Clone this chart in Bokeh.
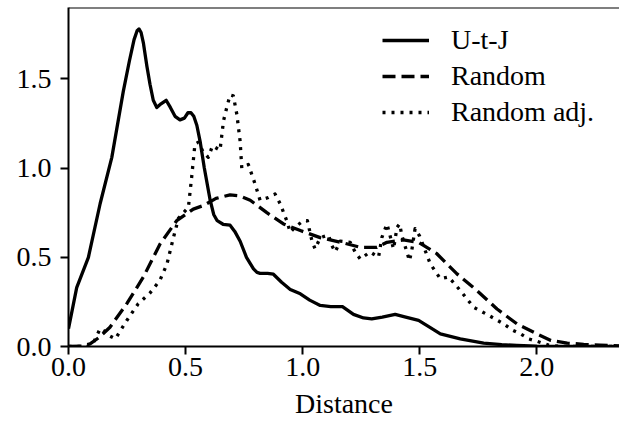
from bokeh.plotting import figure
from bokeh.models import Range1d, Legend, LegendItem, Span, FixedTicker
from bokeh.embed import file_html
from bokeh.resources import INLINE

# ---- data ----
utj_x = [0.0, 0.035, 0.085, 0.135, 0.185, 0.234, 0.26, 0.28, 0.293, 0.301, 0.31, 0.32, 0.335,
         0.348, 0.362, 0.377, 0.395, 0.417, 0.435, 0.455,
         0.476, 0.495, 0.51, 0.523, 0.535, 0.548, 0.562, 0.58, 0.605, 0.62, 0.635, 0.66, 0.69,
         0.71, 0.733, 0.76, 0.79, 0.805,
         0.818, 0.85, 0.875, 0.91, 0.947, 0.99, 1.03, 1.075, 1.12, 1.17, 1.217, 1.26, 1.295,
         1.34, 1.395, 1.44, 1.495, 1.54, 1.588, 1.673, 1.773, 1.85, 1.915, 2.0, 2.1, 2.2, 2.36]
utj_y = [0.10, 0.33, 0.50, 0.80, 1.06, 1.43, 1.60, 1.72, 1.77, 1.78, 1.76, 1.70, 1.57,
         1.47, 1.38, 1.34, 1.36, 1.38, 1.34, 1.29,
         1.27, 1.28, 1.31, 1.31, 1.29, 1.24, 1.15, 1.00, 0.82, 0.74, 0.705, 0.685, 0.68,
         0.645, 0.59, 0.50, 0.435, 0.415,
         0.41, 0.41, 0.405, 0.36, 0.32, 0.295, 0.26, 0.23, 0.224, 0.224, 0.18, 0.16, 0.155,
         0.165, 0.18, 0.165, 0.146, 0.11, 0.071, 0.043, 0.019, 0.01, 0.006, 0.002, 0.001, 0.0, 0.0]

rand_x = [0.0, 0.06, 0.092, 0.13, 0.177, 0.249, 0.32, 0.391, 0.462, 0.533, 0.576, 0.63, 0.69,
          0.73, 0.776, 0.847, 0.918, 0.99, 1.075, 1.16, 1.246, 1.317, 1.36, 1.43, 1.495, 1.573,
          1.659, 1.744, 1.83, 1.915, 2.0, 2.06, 2.13, 2.2, 2.27, 2.36]
rand_y = [0.0, 0.002, 0.015, 0.05, 0.108, 0.24, 0.39, 0.575, 0.705, 0.77, 0.79, 0.83, 0.85,
          0.845, 0.82, 0.75, 0.687, 0.65, 0.61, 0.585, 0.556, 0.556, 0.584, 0.597, 0.584, 0.52,
          0.407, 0.314, 0.21, 0.127, 0.071, 0.034, 0.019, 0.012, 0.008, 0.003]

adj_x = [0.0, 0.08, 0.11, 0.135, 0.149, 0.175, 0.2, 0.249, 0.298, 0.348, 0.39, 0.42, 0.448, 0.47,
         0.512, 0.526, 0.54, 0.555, 0.575, 0.597, 0.615, 0.647, 0.662, 0.676, 0.69, 0.704, 0.719,
         0.733, 0.74, 0.768, 0.797, 0.818, 0.854, 0.882, 0.904, 0.932, 0.947, 0.968, 1.003,
         1.02, 1.04, 1.053, 1.075, 1.11, 1.125, 1.139, 1.16, 1.203, 1.224, 1.246, 1.288, 1.324,
         1.338, 1.36, 1.388, 1.403, 1.414, 1.424, 1.445, 1.456, 1.466, 1.48, 1.499, 1.545,
         1.588, 1.623, 1.673, 1.73, 1.787, 1.858, 1.894, 1.93, 1.965, 2.003, 2.05, 2.1, 2.36]
adj_y = [0.0, 0.0, 0.03, 0.10, 0.09, 0.06, 0.043, 0.146, 0.24, 0.30, 0.37, 0.46, 0.61, 0.72,
         0.78, 0.95, 1.135, 1.145, 1.09, 1.06, 1.125, 1.10, 1.265, 1.34, 1.41, 1.405, 1.30,
         1.15, 1.00, 1.02, 0.91, 0.82, 0.835, 0.855, 0.80, 0.705, 0.64, 0.67, 0.705,
         0.705, 0.59, 0.547, 0.61, 0.625, 0.565, 0.53, 0.59, 0.584, 0.53, 0.49, 0.53, 0.50,
         0.61, 0.687, 0.547, 0.668, 0.687, 0.62, 0.53, 0.48, 0.54, 0.66, 0.62, 0.463,
         0.38, 0.39, 0.314, 0.22, 0.18, 0.127, 0.093, 0.071, 0.043, 0.028, 0.008, 0.0, 0.0]

series_labels = ["U-t-J", "Random", "Random adj."]
x_ticks = [0.0, 0.5, 1.0, 1.5, 2.0]
y_ticks = [0.0, 0.5, 1.0, 1.5]
x_label = "Distance"
X_MAX = 2.353
Y_MAX = 1.9

FONT = "Liberation Serif"
FS = "28px"

p = figure(frame_width=551, frame_height=339, output_backend="svg", toolbar_location=None,
           x_range=Range1d(0, X_MAX), y_range=Range1d(0, Y_MAX),
           min_border_left=68, min_border_right=0, min_border_top=7, min_border_bottom=77)
p.outline_line_color = None
p.grid.visible = False
p.background_fill_color = "white"
p.border_fill_color = "white"

LW = 3.3
r1 = p.line(utj_x, utj_y, line_color="black", line_width=LW, line_join="round")
r2 = p.line(rand_x, rand_y, line_color="black", line_width=LW, line_dash="13 6", line_join="round")
r3 = p.line(adj_x, adj_y, line_color="black", line_width=LW, line_dash="3 6", line_join="round")

# top spine
p.add_layout(Span(location=Y_MAX, dimension="width", line_color="black", line_width=2))

for ax, ticks in ((p.xaxis[0], x_ticks), (p.yaxis[0], y_ticks)):
    ax.ticker = FixedTicker(ticks=ticks)
    ax.minor_tick_line_color = None
    ax.major_tick_in = 0
    ax.major_tick_out = 8
    ax.major_tick_line_width = 2
    ax.axis_line_width = 2
    ax.axis_line_color = "black"
    ax.major_tick_line_color = "black"
    ax.major_label_text_font = FONT
    ax.major_label_text_font_size = FS
    ax.major_label_text_color = "black"

p.xaxis[0].major_label_standoff = 3
p.yaxis[0].major_label_standoff = 9
p.xaxis[0].major_label_overrides = {t: f"{t:.1f}" for t in x_ticks}
p.yaxis[0].major_label_overrides = {t: f"{t:.1f}" for t in y_ticks}

p.xaxis[0].axis_label = x_label
p.xaxis[0].axis_label_standoff = 9
p.xaxis[0].axis_label_text_font = FONT
p.xaxis[0].axis_label_text_font_size = FS
p.xaxis[0].axis_label_text_font_style = "normal"
p.xaxis[0].axis_label_text_color = "black"

legend = Legend(items=[LegendItem(label=series_labels[0], renderers=[r1]),
                       LegendItem(label=series_labels[1], renderers=[r2]),
                       LegendItem(label=series_labels[2], renderers=[r3])],
                location=(314, 218), orientation="vertical",
                glyph_width=47, glyph_height=20, label_standoff=22, spacing=4,
                padding=0, margin=0, border_line_color=None, background_fill_alpha=0,
                label_text_font=FONT, label_text_font_size=FS, label_text_color="black")
p.add_layout(legend)

open("out.html", "w").write(file_html(p, INLINE))
